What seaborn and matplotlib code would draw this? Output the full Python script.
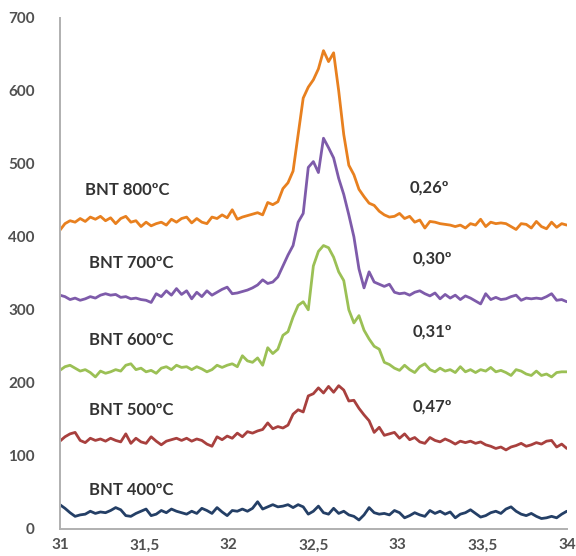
import numpy as np
import pandas as pd
import matplotlib
matplotlib.use("Agg")
import matplotlib.pyplot as plt
import seaborn as sns

# 2-theta grid (degrees), step 0.03
two_theta = np.round(np.linspace(31.0, 34.0, 101), 2)

bnt_800 = [409, 418, 422, 420, 425, 421, 427, 424, 428, 422,
           426, 418, 425, 428, 420, 422, 414, 420, 415, 418,
           420, 416, 424, 420, 425, 427, 419, 425, 420, 418,
           427, 425, 430, 426, 437, 424, 427, 429, 431, 433,
           430, 447, 444, 448, 466, 474, 490, 540, 590, 605,
           615, 630, 655, 640, 652, 600, 540, 498, 485, 465,
           455, 446, 443, 435, 430, 427, 428, 432, 425, 428,
           420, 423, 412, 421, 420, 418, 417, 416, 414, 416,
           412, 418, 416, 424, 414, 420, 418, 419, 418, 414,
           410, 418, 417, 412, 421, 414, 411, 420, 413, 418,
           416]

bnt_700 = [320, 318, 314, 316, 313, 315, 318, 316, 320, 322,
           320, 321, 317, 318, 315, 316, 314, 313, 310, 322,
           318, 326, 320, 329, 321, 326, 315, 324, 318, 326,
           320, 324, 328, 331, 322, 323, 325, 327, 330, 334,
           341, 336, 338, 345, 360, 375, 388, 420, 432, 495,
           503, 488, 535, 522, 508, 480, 458, 430, 400, 356,
           330, 352, 338, 335, 332, 335, 324, 322, 323, 320,
           324, 326, 322, 319, 323, 315, 321, 316, 320, 314,
           319, 316, 312, 308, 322, 314, 317, 314, 315, 318,
           320, 313, 316, 315, 316, 315, 318, 322, 313, 314,
           311]

bnt_600 = [217, 222, 224, 220, 216, 218, 214, 208, 216, 213,
           215, 218, 216, 224, 226, 218, 220, 215, 217, 213,
           220, 222, 218, 224, 221, 222, 218, 222, 219, 215,
           218, 224, 221, 224, 226, 222, 237, 230, 228, 234,
           224, 248, 240, 246, 265, 270, 290, 306, 311, 300,
           360, 380, 388, 385, 372, 352, 340, 300, 282, 292,
           272, 260, 250, 246, 228, 225, 220, 217, 224, 218,
           214, 222, 226, 218, 215, 220, 216, 218, 214, 222,
           215, 218, 214, 218, 216, 221, 215, 217, 214, 210,
           218, 216, 212, 210, 216, 210, 212, 208, 214, 215,
           215]

bnt_500 = [120, 126, 130, 132, 121, 118, 124, 121, 123, 120,
           124, 121, 119, 130, 117, 124, 119, 117, 126, 120,
           115, 120, 122, 124, 121, 124, 120, 123, 121, 116,
           113, 126, 122, 127, 124, 131, 126, 133, 131, 134,
           136, 145, 137, 140, 138, 142, 157, 163, 160, 182,
           185, 193, 186, 195, 187, 196, 190, 175, 176, 165,
           156, 148, 132, 139, 128, 130, 132, 124, 130, 122,
           125, 119, 117, 125, 121, 119, 123, 120, 116, 120,
           118, 120, 117, 119, 115, 113, 110, 112, 108, 112,
           114, 117, 113, 115, 118, 116, 120, 121, 112, 116,
           110]

bnt_400 = [33, 28, 22, 17, 19, 20, 24, 21, 23, 22,
           25, 29, 26, 18, 17, 21, 24, 27, 18, 20,
           25, 22, 27, 24, 22, 20, 24, 21, 28, 25,
           21, 29, 23, 18, 25, 24, 27, 24, 28, 37,
           27, 30, 33, 30, 31, 33, 29, 33, 30, 20,
           24, 31, 22, 20, 28, 21, 24, 19, 17, 12,
           19, 29, 22, 20, 21, 19, 25, 22, 15, 18,
           22, 19, 17, 25, 21, 24, 20, 23, 15, 20,
           22, 26, 21, 16, 18, 22, 24, 21, 27, 30,
           24, 20, 18, 21, 17, 14, 15, 17, 15, 20,
           24]

sample_labels = ["BNT 800ºC", "BNT 700ºC", "BNT 600ºC", "BNT 500ºC", "BNT 400ºC"]
fwhm_labels = ["0,26º", "0,30º", "0,31º", "0,47º"]
x_tick_values = [31, 31.5, 32, 32.5, 33, 33.5, 34]
x_tick_labels = ["31", "31,5", "32", "32,5", "33", "33,5", "34"]
y_tick_values = [0, 100, 200, 300, 400, 500, 600, 700]

series = [bnt_800, bnt_700, bnt_600, bnt_500, bnt_400]
colors = ["#E8801F", "#7E5BAA", "#9BC055", "#A8403E", "#243F66"]

frames = []
for name, vals in zip(sample_labels, series):
    frames.append(pd.DataFrame({"x": two_theta, "y": vals, "sample": name}))
df = pd.concat(frames, ignore_index=True)

sns.set_style("white")
plt.rcParams["font.family"] = ["Lato", "DejaVu Sans"]

fig = plt.figure(figsize=(5.76, 5.56), dpi=100)
ax = fig.add_axes([0.104, 0.049, 0.880, 0.919])

sns.lineplot(data=df, x="x", y="y", hue="sample", hue_order=sample_labels,
             palette=dict(zip(sample_labels, colors)), ax=ax, legend=False,
             linewidth=2.0, estimator=None, sort=False)

ax.set_xlim(31, 34)
ax.set_ylim(0, 700)
ax.set_xticks(x_tick_values)
ax.set_xticklabels(x_tick_labels)
ax.set_yticks(y_tick_values)
ax.set_xlabel("")
ax.set_ylabel("")

for s in ["top", "right"]:
    ax.spines[s].set_visible(False)
for s in ["left", "bottom"]:
    ax.spines[s].set_color("#B0B0B0")
    ax.spines[s].set_linewidth(1.4)

ax.tick_params(axis="both", which="major", length=4, width=1.2, color="#B0B0B0",
               labelsize=11, labelcolor="#505050", direction="out")
ax.tick_params(axis="y", pad=14)
ax.tick_params(axis="x", pad=3)
for lab in ax.get_xticklabels() + ax.get_yticklabels():
    lab.set_fontweight("bold")

label_pos = [(31.15, 464), (31.17, 364), (31.17, 259), (31.17, 163), (31.17, 53)]
for (lx, ly), txt in zip(label_pos, sample_labels):
    ax.text(lx, ly, txt, fontsize=12, fontweight="bold", color="#333333",
            ha="left", va="center")

fwhm_pos = [(33.07, 467), (33.09, 370), (33.09, 270), (33.09, 167)]
for (lx, ly), txt in zip(fwhm_pos, fwhm_labels):
    ax.text(lx, ly, txt, fontsize=12, fontweight="bold", color="#333333",
            ha="left", va="center")

fig.savefig("out.png", dpi=100)
